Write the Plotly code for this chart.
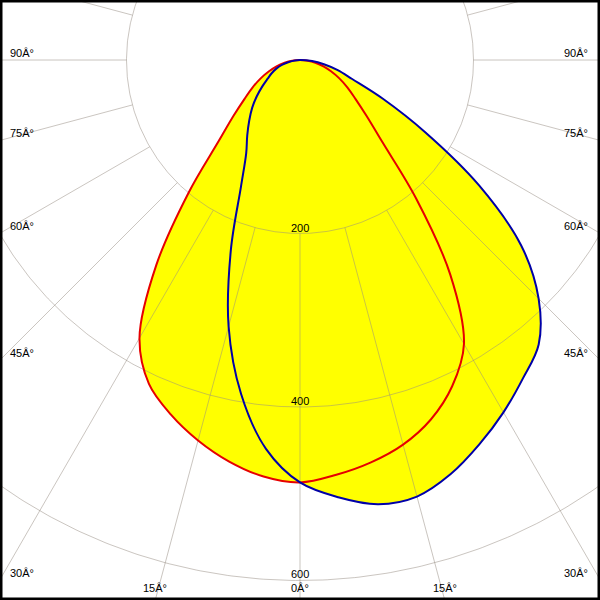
import numpy as np
import plotly.graph_objects as go

# ---- data (luminous intensity, cd) ----
gamma = [0, 5, 10, 15, 20, 25, 30, 35, 40, 45, 50, 55, 60, 65, 70, 75, 80, 85, 90]
c0 = [487, 480, 471, 459, 441, 415, 378, 302, 208, 135, 100, 78, 63, 50, 38, 28, 18, 9, 0]
c180 = [487, 482, 470, 454, 435, 412, 370, 289, 200, 133, 100, 78, 63, 50, 38, 28, 18, 9, 0]
c90 = [487, 506, 520, 521, 508, 489, 469, 448, 428, 389, 333, 252, 167, 105, 64, 45, 28, 14, 0]
c270 = [487, 450, 391, 318, 233, 161, 124, 106, 91, 78, 65, 53, 43, 36, 29, 21, 13, 6, 0]

ring_values = [200, 400, 600, 800]
ring_labels = ["200", "400", "600"]
spoke_angles = list(range(0, 360, 15))
angle_label_values = [0, 15, 30, 45, 60, 75, 90]

# ---- view (cd units) ----
X_HALF = 345.8
Y_TOP = 69.2
Y_BOT = -622.5

g = np.radians(gamma)


def closed_curve(left, right):
    left = np.asarray(left, float)
    right = np.asarray(right, float)
    xl = -left * np.sin(g)
    yl = -left * np.cos(g)
    xr = right * np.sin(g)
    yr = -right * np.cos(g)
    x = np.concatenate([xl[::-1], xr[1:]])
    y = np.concatenate([yl[::-1], yr[1:]])
    return x, y


rx, ry = closed_curve(c180, c0)
bx, by = closed_curve(c270, c90)

fig = go.Figure()
YELLOW = "#ffff00"
for x, y in [(rx, ry), (bx, by)]:
    fig.add_trace(go.Scatter(x=x, y=y, mode="lines", fill="toself",
                             fillcolor=YELLOW, line=dict(width=0, color=YELLOW, shape="spline"),
                             hoverinfo="skip", showlegend=False))

GRID = "rgba(150,140,130,0.5)"
t = np.linspace(0, 2 * np.pi, 721)
for r in ring_values:
    fig.add_trace(go.Scatter(x=r * np.cos(t), y=r * np.sin(t), mode="lines",
                             line=dict(color=GRID, width=1), hoverinfo="skip", showlegend=False))
r0 = ring_values[0]
for a in spoke_angles:
    ar = np.radians(a)
    fig.add_trace(go.Scatter(x=[r0 * np.sin(ar), 2000 * np.sin(ar)],
                             y=[-r0 * np.cos(ar), -2000 * np.cos(ar)], mode="lines",
                             line=dict(color=GRID, width=1), hoverinfo="skip", showlegend=False))

fig.add_trace(go.Scatter(x=rx, y=ry, mode="lines", line=dict(color="#e60000", width=2, shape="spline"),
                         hoverinfo="skip", showlegend=False))
fig.add_trace(go.Scatter(x=bx, y=by, mode="lines", line=dict(color="#0000a8", width=2, shape="spline"),
                         hoverinfo="skip", showlegend=False))

FONT = dict(family="Liberation Sans, Arial, sans-serif", size=11, color="black")
ann = []
for r, lab in zip(ring_values, ring_labels):
    ann.append(dict(x=0, y=-r, text=lab, showarrow=False, xref="x", yref="y",
                    xanchor="center", yanchor="middle", yshift=6, font=FONT))

for a in angle_label_values:
    txt = f"{a}\u00c2\u00b0"
    ar = np.radians(a)
    sides = [0] if a == 0 else [-1, 1]
    for s in sides:
        bx_hit = abs(Y_BOT) * np.tan(ar) if a < 90 else np.inf
        if bx_hit <= X_HALF:
            ann.append(dict(x=s * bx_hit, y=Y_BOT, text=txt, showarrow=False, xref="x", yref="y",
                            xanchor="center", yanchor="middle", yshift=12, font=FONT))
        else:
            yy = -X_HALF / np.tan(ar) if a < 90 else 0.0
            ann.append(dict(x=s * X_HALF, y=yy, text=txt, showarrow=False, xref="x", yref="y",
                            xanchor="left" if s < 0 else "right", xshift=8 if s < 0 else -10,
                            yanchor="middle", yshift=7, font=FONT))

fig.update_layout(
    width=600, height=600, margin=dict(l=0, r=0, t=0, b=0),
    paper_bgcolor="white", plot_bgcolor="white",
    xaxis=dict(range=[-X_HALF, X_HALF], visible=False, fixedrange=True),
    yaxis=dict(range=[Y_BOT, Y_TOP], visible=False, fixedrange=True),
    annotations=ann,
    shapes=[dict(type="rect", xref="paper", yref="paper", x0=0, x1=1, y0=0, y1=1,
                 line=dict(color="black", width=5), layer="above")],
)
fig.write_html("out.html", config={"displayModeBar": False},
               post_script="document.body.style.margin='0';document.body.style.overflow='hidden';")
